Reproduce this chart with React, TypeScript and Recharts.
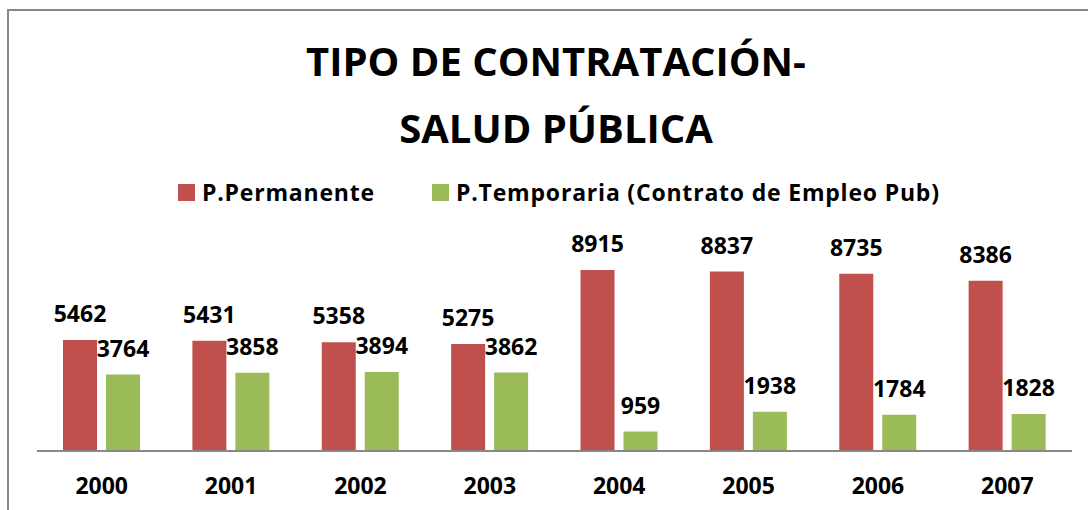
import { Bar, BarChart, LabelList, XAxis, YAxis } from 'recharts';

const years = ['2000', '2001', '2002', '2003', '2004', '2005', '2006', '2007'];
const permanente = [5462, 5431, 5358, 5275, 8915, 8837, 8735, 8386];
const temporaria = [3764, 3858, 3894, 3862, 959, 1938, 1784, 1828];
const seriesNames = ['P.Permanente', 'P.Temporaria (Contrato de Empleo Pub)'];
const seriesColors = ['#C0504D', '#9BBB59'];
const titleLines = ['TIPO DE CONTRATACIÓN-', 'SALUD PÚBLICA'];

const data = years.map((year, i) => ({ year, permanente: permanente[i], temporaria: temporaria[i] }));

const font = '"Open Sans", sans-serif';

function YearTick({ x, y, payload }: any) {
  return (
    <text x={x} y={y} dy={43} textAnchor="middle" fill="#000" fontSize={23} fontWeight={700} fontFamily={font}>
      {payload.value}
    </text>
  );
}

const labelStyle = { fill: '#000', fontSize: 23, fontWeight: 700, fontFamily: font };

export default function App() {
  return (
    <div style={{ position: 'absolute', left: 0, top: 0, width: 1088, height: 510, overflow: 'hidden', background: '#fff' }}>
      <div style={{ position: 'absolute', left: 7, top: 9, width: 1200, height: 600, border: '2px solid #878787' }} />
      <div style={{ position: 'absolute', left: 0, top: 0 }}>
        <BarChart width={1088} height={510} data={data} margin={{ top: 248, right: 16, bottom: 0, left: 37 }} barSize={34} barGap={9}>
          <XAxis dataKey="year" height={59} tickSize={0} tickMargin={0} tickLine={false} axisLine={{ stroke: '#888888', strokeWidth: 2 }} tick={<YearTick />} interval={0} />
          <YAxis hide domain={[0, 10000]} width={0} />
          <Bar dataKey="permanente" fill={seriesColors[0]} isAnimationActive={false}>
            <LabelList dataKey="permanente" position="top" offset={18} style={labelStyle} />
          </Bar>
          <Bar dataKey="temporaria" fill={seriesColors[1]} isAnimationActive={false}>
            <LabelList dataKey="temporaria" position="top" offset={18} style={labelStyle} />
          </Bar>
        </BarChart>
      </div>
      <svg width={1088} height={510} style={{ position: 'absolute', left: 0, top: 0, pointerEvents: 'none' }}>
        <text x={556} y={76} textAnchor="middle" fontSize={40} fontWeight={700} fontFamily={font} fill="#000">{titleLines[0]}</text>
        <text x={556} y={143} textAnchor="middle" fontSize={40} fontWeight={700} fontFamily={font} fill="#000">{titleLines[1]}</text>
        <rect x={178} y={184} width={17} height={17} fill={seriesColors[0]} />
        <text x={202} y={201} fontSize={23} letterSpacing={0.8} fontWeight={700} fontFamily={font} fill="#000">{seriesNames[0]}</text>
        <rect x={432} y={184} width={17} height={17} fill={seriesColors[1]} />
        <text x={456} y={201} fontSize={23} letterSpacing={0.8} fontWeight={700} fontFamily={font} fill="#000">{seriesNames[1]}</text>
      </svg>
    </div>
  );
}
